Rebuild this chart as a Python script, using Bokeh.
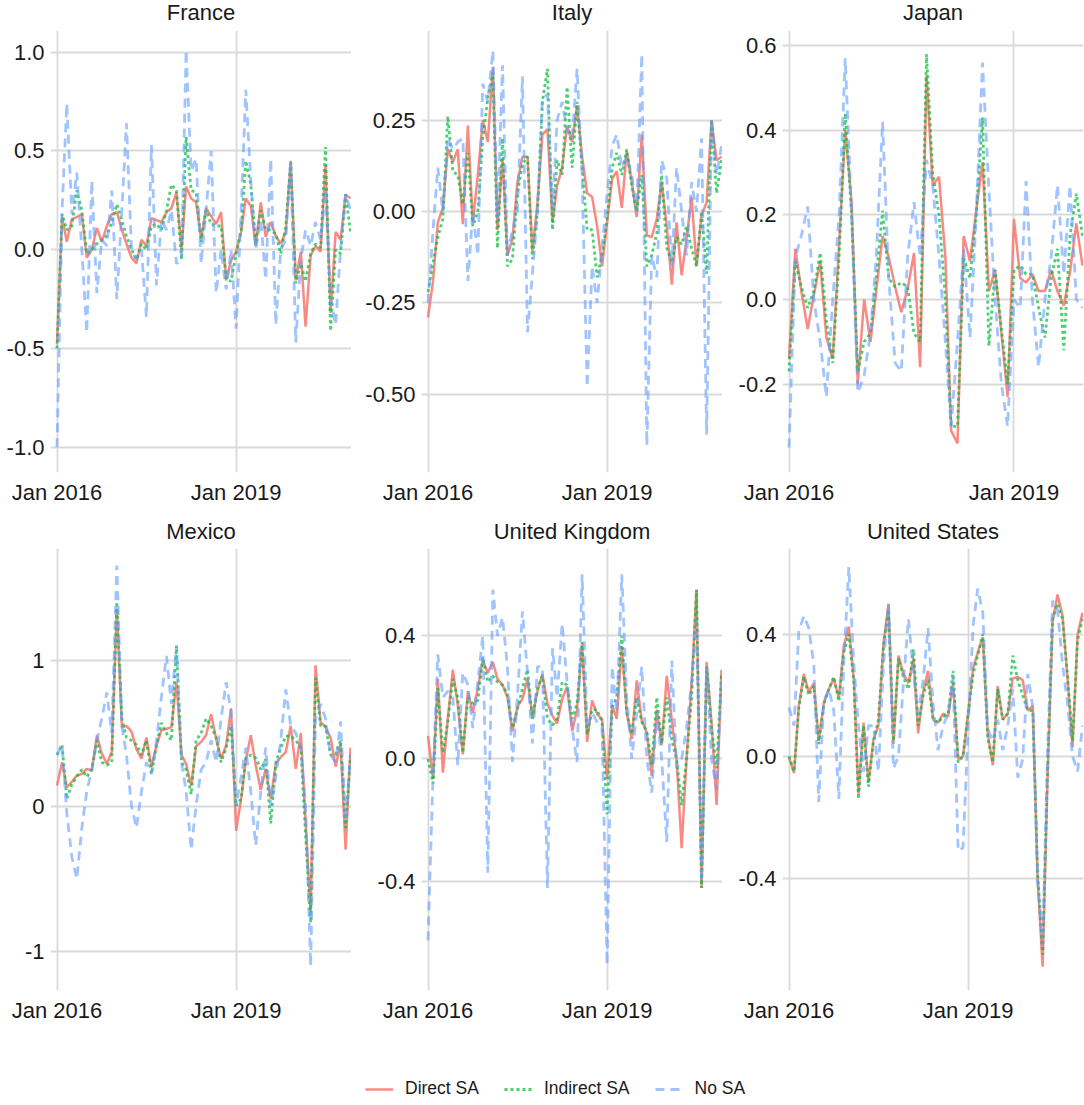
import pandas as pd
from bokeh.plotting import figure
from bokeh.layouts import column, row
from bokeh.models import (Range1d, FixedTicker, DatetimeTickFormatter, NumeralTickFormatter,
                          Legend, LegendItem, ColumnDataSource)
from bokeh.core.properties import value
from bokeh.embed import file_html
from bokeh.resources import INLINE

# ---------------------------------------------------------------- data
months_60 = pd.date_range("2016-01-01", periods=60, freq="MS")
months_48 = pd.date_range("2016-01-01", periods=48, freq="MS")

france_direct = [-0.48, 0.165, 0.04, 0.155, 0.165, 0.18, -0.04, 0.0, 0.11, 0.04, 0.12, 0.18, 0.19, 0.1, 0.03,
                 -0.04, -0.07, 0.05, 0.02, 0.16, 0.15, 0.14, 0.19, 0.21, 0.29, 0.0, 0.32, 0.26, 0.24, 0.055,
                 0.21, 0.17, 0.13, 0.19, -0.155, -0.055, -0.01, 0.09, 0.26, 0.22, 0.02, 0.24, 0.065, 0.14, 0.07,
                 0.03, 0.09, 0.45, -0.155, -0.01, -0.39, -0.03, 0.02, -0.01, 0.43, -0.32, 0.09, 0.05, 0.28, 0.26]
france_indirect = [-0.5, 0.18, 0.1, 0.12, 0.3, 0.2, -0.02, 0.0, 0.03, 0.05, 0.07, 0.14, 0.23, 0.15, 0.07,
                   0.0, -0.05, 0.03, 0.0, 0.12, 0.13, 0.1, 0.2, 0.33, 0.3, -0.05, 0.57, 0.3, 0.29, 0.04,
                   0.2, 0.13, 0.12, 0.12, -0.15, -0.16, -0.02, 0.1, 0.45, 0.33, 0.03, 0.2, 0.1, 0.1, 0.08,
                   -0.02, 0.12, 0.44, -0.17, -0.07, -0.16, -0.02, 0.03, 0.01, 0.52, -0.41, 0.0, -0.02, 0.28, 0.09]
france_nosa = [-1.0, 0.2, 0.74, 0.18, 0.39, 0.0, -0.42, 0.35, -0.22, 0.05, 0.02, 0.3, -0.25, 0.2, 0.64,
               0.0, -0.05, 0.0, -0.34, 0.53, -0.18, 0.15, 0.1, 0.2, -0.07, -0.05, 1.01, 0.4, 0.46, -0.07,
               0.2, 0.5, -0.22, 0.0, -0.2, 0.0, -0.4, 0.2, 0.81, 0.35, 0.0, 0.15, -0.15, 0.46, -0.38,
               0.0, 0.05, 0.45, -0.47, -0.05, 0.1, 0.02, 0.14, 0.05, 0.3, -0.25, -0.38, 0.0, 0.28, 0.2]

italy_direct = [-0.29, -0.19, -0.03, 0.01, 0.17, 0.135, 0.17, -0.035, 0.235, -0.03, 0.1, 0.25, 0.19, 0.395, -0.05,
                0.145, -0.12, -0.075, 0.08, 0.15, 0.15, -0.11, 0.025, 0.21, 0.225, -0.03, 0.07, 0.12, 0.235, 0.19,
                0.29, 0.15, 0.05, 0.04, -0.04, -0.15, -0.03, 0.09, 0.11, 0.01, 0.165, 0.08, -0.015, 0.21, -0.065,
                -0.07, -0.02, 0.08, -0.04, -0.2, -0.03, -0.175, -0.075, 0.04, -0.15, -0.01, 0.025, 0.25, 0.14, 0.15]
italy_indirect = [-0.22, -0.14, -0.07, -0.02, 0.26, 0.11, 0.1, 0.02, 0.16, -0.04, 0.0, 0.2, 0.31, 0.38, -0.1,
                  0.2, -0.15, -0.13, 0.05, 0.13, 0.15, -0.13, 0.0, 0.3, 0.39, -0.05, 0.14, 0.1, 0.34, 0.12,
                  0.3, 0.12, -0.05, -0.05, -0.18, -0.12, -0.02, 0.12, 0.16, 0.1, 0.17, 0.07, 0.0, 0.1, -0.15,
                  -0.12, -0.06, 0.1, -0.1, -0.14, -0.07, -0.09, -0.04, -0.1, -0.15, 0.0, -0.17, 0.25, 0.05, 0.14]
italy_nosa = [-0.25, -0.05, 0.12, 0.0, 0.2, 0.17, 0.19, 0.2, -0.19, 0.0, -0.12, 0.35, 0.3, 0.44, -0.02,
              0.4, -0.12, -0.05, 0.0, 0.37, -0.33, -0.17, 0.0, 0.31, 0.32, 0.0, 0.25, 0.3, 0.22, 0.2,
              0.39, 0.1, -0.48, -0.15, -0.25, -0.1, 0.05, 0.18, 0.21, 0.12, 0.15, 0.1, 0.0, 0.43, -0.64,
              -0.12, -0.18, 0.14, 0.09, -0.15, 0.12, 0.0, -0.12, 0.08, 0.0, 0.2, -0.61, 0.25, 0.1, 0.18]

japan_direct = [-0.14, 0.12, 0.02, -0.07, 0.01, 0.09, -0.09, -0.14, 0.13, 0.4, 0.23, -0.2, 0.0, -0.1, 0.02,
                0.15, 0.1, 0.03, -0.03, 0.025, 0.11, -0.16, 0.53, 0.27, 0.29, 0.1, -0.31, -0.34, 0.15, 0.09,
                0.21, 0.325, 0.02, 0.07, -0.08, -0.23, 0.19, 0.05, 0.04, 0.06, 0.02, 0.02, 0.07, 0.02, -0.015,
                0.065, 0.18, 0.08]
japan_indirect = [-0.17, 0.09, 0.03, -0.02, 0.02, 0.11, -0.05, -0.15, 0.1, 0.44, 0.2, -0.17, -0.1, -0.08, 0.05,
                  0.21, 0.05, 0.03, 0.04, 0.03, -0.08, -0.1, 0.58, 0.3, 0.2, 0.0, -0.3, -0.3, 0.1, 0.05,
                  0.2, 0.43, -0.11, 0.07, -0.07, -0.2, 0.07, 0.08, 0.06, 0.06, -0.02, -0.09, 0.05, 0.12, -0.12,
                  0.15, 0.25, 0.15]
japan_nosa = [-0.35, 0.1, 0.15, 0.22, 0.0, -0.1, -0.23, 0.0, 0.2, 0.57, 0.2, -0.22, -0.18, -0.08, 0.1,
              0.42, 0.05, -0.15, -0.17, 0.1, 0.23, 0.1, 0.33, 0.27, 0.1, -0.1, -0.3, -0.1, 0.12, -0.09,
              0.2, 0.56, 0.26, 0.0, -0.2, -0.3, 0.0, -0.02, 0.28, 0.0, -0.16, 0.0, 0.1, 0.27, 0.06,
              0.27, 0.0, -0.02]

mexico_direct = [0.14, 0.3, 0.13, 0.165, 0.21, 0.22, 0.255, 0.245, 0.485, 0.36, 0.29, 0.37, 1.35, 0.54, 0.55,
                 0.51, 0.39, 0.325, 0.47, 0.27, 0.415, 0.52, 0.53, 0.54, 0.85, 0.35, 0.29, 0.14, 0.41, 0.44,
                 0.485, 0.63, 0.46, 0.325, 0.415, 0.67, -0.17, 0.05, 0.31, 0.485, 0.28, 0.11, 0.255, 0.05, 0.29,
                 0.335, 0.37, 0.55, 0.255, 0.5, -0.1, -0.73, 0.965, 0.575, 0.54, 0.47, 0.27, 0.43, -0.3, 0.4]
mexico_indirect = [0.35, 0.42, 0.05, 0.15, 0.2, 0.25, 0.2, 0.25, 0.45, 0.3, 0.28, 0.3, 1.4, 0.6, 0.47,
                   0.45, 0.42, 0.35, 0.45, 0.22, 0.42, 0.57, 0.5, 0.45, 1.1, 0.3, 0.25, 0.08, 0.45, 0.5,
                   0.6, 0.55, 0.47, 0.3, 0.4, 0.55, 0.0, 0.05, 0.33, 0.35, 0.33, 0.25, 0.32, -0.12, 0.3,
                   0.4, 0.48, 0.48, 0.45, 0.4, -0.2, -0.8, 0.88, 0.55, 0.55, 0.35, 0.35, 0.45, -0.15, 0.35]
mexico_nosa = [0.35, 0.42, -0.05, -0.35, -0.5, -0.15, 0.1, 0.25, 0.45, 0.6, 0.78, 0.5, 1.65, 0.55, 0.35,
               0.0, -0.15, 0.1, 0.3, 0.22, 0.45, 0.75, 1.03, 0.7, 1.1, 0.3, 0.1, -0.3, 0.0, 0.25,
               0.3, 0.45, 0.3, 0.6, 0.85, 0.65, 0.0, 0.2, 0.4, 0.1, -0.27, 0.1, 0.4, 0.0, 0.2,
               0.45, 0.8, 0.55, 0.5, 0.4, 0.0, -1.1, 0.6, 0.7, 0.6, 0.35, 0.3, 0.58, -0.1, 0.35]

uk_direct = [0.075, -0.065, 0.26, -0.045, 0.13, 0.29, 0.175, 0.015, 0.22, 0.15, 0.23, 0.32, 0.28, 0.315, 0.26,
             0.24, 0.2, 0.09, 0.17, 0.195, 0.26, 0.135, 0.22, 0.275, 0.18, 0.14, 0.115, 0.195, 0.235, 0.09,
             0.16, 0.375, 0.055, 0.19, 0.145, 0.13, -0.065, 0.175, 0.13, 0.365, 0.15, 0.065, 0.255, 0.125, 0.085,
             -0.055, 0.16, 0.045, 0.27, 0.125, 0.0, -0.29, 0.0, 0.245, 0.55, -0.42, 0.315, 0.12, -0.15, 0.29]
uk_indirect = [0.0, -0.08, 0.23, 0.02, 0.12, 0.26, 0.2, 0.02, 0.2, 0.18, 0.19, 0.33, 0.25, 0.27, 0.25,
               0.24, 0.21, 0.1, 0.16, 0.23, 0.29, 0.13, 0.23, 0.27, 0.13, 0.11, 0.13, 0.25, 0.24, 0.13,
               0.18, 0.38, 0.08, 0.16, 0.16, 0.12, -0.18, 0.17, 0.2, 0.4, 0.15, 0.08, 0.2, 0.12, 0.09,
               -0.02, 0.2, 0.05, 0.2, 0.06, 0.0, -0.15, 0.0, 0.2, 0.55, -0.42, 0.3, 0.1, -0.03, 0.28]
uk_nosa = [-0.59, -0.05, 0.34, 0.2, 0.22, 0.2, -0.02, 0.28, 0.24, 0.1, 0.25, 0.4, -0.37, 0.55, 0.4,
           0.46, 0.3, -0.01, 0.2, 0.48, 0.28, 0.05, 0.3, 0.3, -0.42, 0.36, 0.2, 0.44, 0.25, 0.1,
           -0.01, 0.6, 0.1, 0.15, 0.12, 0.1, -0.67, 0.3, 0.15, 0.6, 0.2, 0.0, 0.15, 0.3, 0.0,
           -0.11, 0.15, 0.0, -0.27, 0.32, -0.03, 0.0, 0.1, 0.25, 0.45, -0.4, 0.3, 0.0, -0.1, 0.25]

us_direct = [-0.005, -0.055, 0.165, 0.27, 0.21, 0.24, 0.05, 0.175, 0.22, 0.255, 0.19, 0.36, 0.425, 0.25, -0.125,
             0.11, -0.085, 0.055, 0.1, 0.37, 0.5, 0.04, 0.33, 0.27, 0.24, 0.32, 0.075, 0.21, 0.28, 0.12,
             0.11, 0.14, 0.13, 0.24, -0.01, 0.0, 0.14, 0.29, 0.34, 0.39, 0.075, -0.03, 0.23, 0.12, 0.14,
             0.255, 0.26, 0.25, 0.15, 0.165, -0.4, -0.69, -0.075, 0.44, 0.53, 0.46, 0.25, 0.03, 0.4, 0.47]
us_indirect = [0.0, -0.05, 0.16, 0.26, 0.2, 0.23, 0.04, 0.17, 0.22, 0.26, 0.18, 0.34, 0.4, 0.24, -0.14,
               0.1, -0.1, 0.05, 0.12, 0.36, 0.48, 0.05, 0.32, 0.26, 0.22, 0.35, 0.1, 0.2, 0.25, 0.12,
               0.11, 0.13, 0.14, 0.28, -0.02, 0.0, 0.14, 0.27, 0.33, 0.4, 0.06, -0.02, 0.22, 0.12, 0.14,
               0.33, 0.25, 0.2, 0.15, 0.15, -0.38, -0.65, -0.05, 0.45, 0.5, 0.45, 0.26, 0.05, 0.38, 0.45]
us_nosa = [0.16, 0.1, 0.41, 0.46, 0.42, 0.3, -0.15, 0.18, 0.22, 0.15, -0.14, 0.3, 0.62, 0.3, 0.1,
           -0.05, 0.1, 0.1, -0.05, 0.3, 0.5, -0.04, 0.0, 0.24, 0.45, 0.27, 0.14, 0.25, 0.42, 0.17,
           0.02, 0.1, 0.14, 0.26, -0.31, -0.3, 0.09, 0.43, 0.55, 0.47, 0.09, 0.05, 0.12, 0.02, 0.1,
           0.22, -0.07, -0.01, 0.27, 0.16, -0.4, -0.62, 0.01, 0.51, 0.48, 0.3, 0.17, 0.0, -0.05, 0.1]

series_names = ["Direct SA", "Indirect SA", "No SA"]
x_tick_dates = ["2016-01-01", "2019-01-01"]

panels = [
    dict(name="France", dates=months_60, vals=(france_direct, france_indirect, france_nosa),
         ylim=(-1.128, 1.110), yticks=[-1.0, -0.5, 0.0, 0.5, 1.0], fmt="0.0"),
    dict(name="Italy", dates=months_60, vals=(italy_direct, italy_indirect, italy_nosa),
         ylim=(-0.714, 0.495), yticks=[-0.5, -0.25, 0.0, 0.25], fmt="0.00"),
    dict(name="Japan", dates=months_48, vals=(japan_direct, japan_indirect, japan_nosa),
         ylim=(-0.409, 0.636), yticks=[-0.2, 0.0, 0.2, 0.4, 0.6], fmt="0.0"),
    dict(name="Mexico", dates=months_60, vals=(mexico_direct, mexico_indirect, mexico_nosa),
         ylim=(-1.266, 1.767), yticks=[-1.0, 0.0, 1.0], fmt="0"),
    dict(name="United Kingdom", dates=months_60, vals=(uk_direct, uk_indirect, uk_nosa),
         ylim=(-0.753, 0.684), yticks=[-0.4, 0.0, 0.4], fmt="0.0"),
    dict(name="United States", dates=months_60, vals=(us_direct, us_indirect, us_nosa),
         ylim=(-0.768, 0.681), yticks=[-0.4, 0.0, 0.4], fmt="0.0"),
]

# ---------------------------------------------------------------- styling
FONT = "Liberation Sans"
TEXT = "#1a1a1a"
GRID = "#d9d9d9"
PAGE_W = 1084
FRAME_W, FRAME_H = 301, 442
styles = [
    dict(color="#F8766D", line_width=2.5, line_alpha=0.85, line_dash="solid"),
    dict(color="#00BA38", line_width=2.8, line_alpha=0.7, line_dash="3 3"),
    dict(color="#619CFF", line_width=2.8, line_alpha=0.6, line_dash="9 6"),
]
left_borders = [50, 70, 60]
right_borders = [0, 0, 1]


def to_ms(ts):
    return (pd.Timestamp(ts) - pd.Timestamp("1970-01-01")) / pd.Timedelta(milliseconds=1)


def x_limits(dates, pad_left=6.5, pad_right=1.0):
    t0, t1 = to_ms(dates[0]), to_ms(dates[-1])
    ppm = (FRAME_W - pad_left - pad_right) / (t1 - t0)
    return t0 - pad_left / ppm, t1 + pad_right / ppm


def bare(p):
    p.xaxis.visible = False
    p.yaxis.visible = False
    p.grid.visible = False
    p.outline_line_color = None
    return p


def make_panel(spec, col):
    x0, x1 = x_limits(spec["dates"])
    p = figure(frame_width=FRAME_W, frame_height=FRAME_H, x_axis_type="datetime",
               x_range=Range1d(x0, x1), y_range=Range1d(*spec["ylim"]),
               output_backend="svg", toolbar_location=None,
               min_border_left=left_borders[col], min_border_right=right_borders[col],
               min_border_top=0, min_border_bottom=40)
    src = ColumnDataSource(dict(date=spec["dates"], d=spec["vals"][0],
                                i=spec["vals"][1], n=spec["vals"][2]))
    for key, st in zip(["d", "i", "n"], styles):
        p.line("date", key, source=src, **st)

    p.xaxis.ticker = FixedTicker(ticks=[to_ms(d) for d in x_tick_dates])
    fmt = "%b %Y"
    p.xaxis.formatter = DatetimeTickFormatter(
        microseconds=fmt, milliseconds=fmt, seconds=fmt, minsec=fmt, minutes=fmt,
        hourmin=fmt, hours=fmt, days=fmt, months=fmt, years=fmt)
    p.yaxis.ticker = FixedTicker(ticks=spec["yticks"])
    p.yaxis.formatter = NumeralTickFormatter(format=spec["fmt"])

    for ax in (p.xaxis[0], p.yaxis[0]):
        ax.axis_line_color = None
        ax.major_tick_line_color = None
        ax.minor_tick_line_color = None
        ax.major_tick_out = 0
        ax.major_tick_in = 0
        ax.minor_tick_out = 0
        ax.minor_tick_in = 0
        ax.major_label_text_font = FONT
        ax.major_label_text_font_size = "22px"
        ax.major_label_text_color = TEXT
    p.xaxis.major_label_standoff = 7
    p.yaxis.major_label_standoff = 6

    p.grid.grid_line_color = GRID
    p.grid.grid_line_width = 1.8
    p.outline_line_color = None
    p.background_fill_color = "white"
    p.border_fill_color = "white"
    return p


def heading_strip(names, height, center_from_bottom):
    """Thin strip carrying the panel names, centred over each plotting area."""
    h = bare(figure(width=PAGE_W, height=height, x_range=Range1d(0, PAGE_W),
                    y_range=Range1d(0, height), output_backend="svg",
                    toolbar_location=None, min_border=0))
    centers, x = [], 0
    for col in range(3):
        x += left_borders[col]
        centers.append(x + FRAME_W / 2)
        x += FRAME_W + right_borders[col]
    h.text(x=centers, y=[center_from_bottom] * 3, text=names, text_align="center",
           text_baseline="middle", text_font=value(FONT),
           text_font_size=value("22px"), text_color=TEXT)
    return h


figs = [make_panel(spec, k % 3) for k, spec in enumerate(panels)]
names = [spec["name"] for spec in panels]
head_top = heading_strip(names[:3], 30, 18)
head_bottom = heading_strip(names[3:], 36, 17)

# ---------------------------------------------------------------- legend strip
leg = bare(figure(width=PAGE_W, height=75, x_range=Range1d(0, 1), y_range=Range1d(0, 1),
                  output_backend="svg", toolbar_location=None, min_border=0))
items = []
for name, st in zip(series_names, styles):
    r = leg.line(x=[-2, -1], y=[-2, -1], **st)
    items.append(LegendItem(label=name, renderers=[r]))
legend = Legend(items=items, orientation="horizontal", location=(365, 6),
                glyph_width=28, glyph_height=20, label_standoff=12, spacing=25,
                padding=0, margin=0, border_line_color=None, background_fill_alpha=0,
                label_text_font=FONT, label_text_font_size="17.5px", label_text_color=TEXT)
leg.add_layout(legend, "center")

layout = column(head_top, row(*figs[:3]), head_bottom, row(*figs[3:]), leg)

with open("out.html", "w") as f:
    f.write(file_html(layout, INLINE))
